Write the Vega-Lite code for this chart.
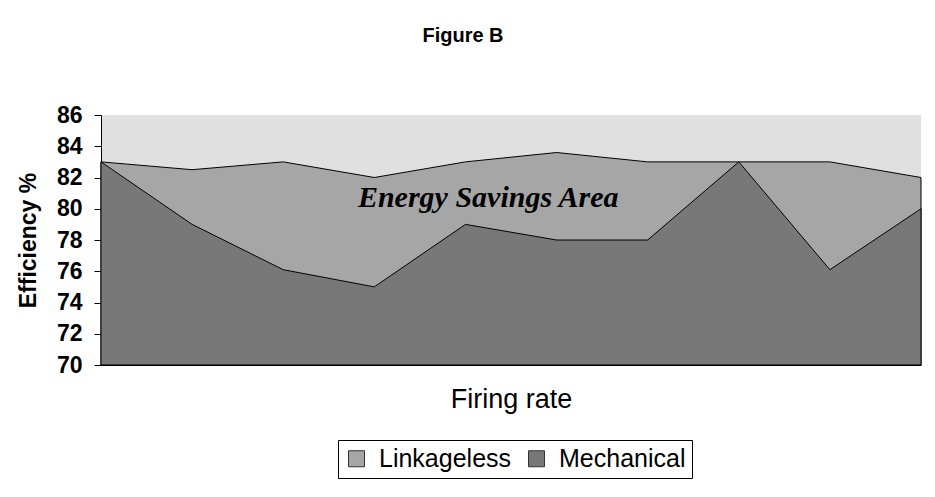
{
  "$schema": "https://vega.github.io/schema/vega-lite/v6.json",
  "width": 820,
  "height": 250,
  "autosize": {"type": "none"},
  "padding": {"left": 101, "top": 115, "right": 14, "bottom": 132},
  "background": "white",
  "title": {
    "text": "Figure B",
    "font": "Liberation Sans",
    "fontSize": 20,
    "fontWeight": "bold",
    "color": "black",
    "anchor": "middle",
    "dx": -48,
    "offset": 58
  },
  "config": {
    "view": {"fill": "#e0e0e0", "stroke": null},
    "font": "Liberation Sans",
    "axisY": {
      "labelOverlap": false,
      "grid": false,
      "domainColor": "black",
      "tickColor": "black",
      "tickSize": 7,
      "labelPadding": 12,
      "labelFont": "Liberation Sans",
      "labelFontSize": 23,
      "labelFontWeight": "bold",
      "labelColor": "black",
      "titleFont": "Liberation Sans",
      "titleFontSize": 23,
      "titleFontWeight": "bold",
      "titleColor": "black",
      "titlePadding": 16
    },
    "axisX": {
      "labels": false,
      "ticks": false,
      "grid": false,
      "domainColor": "black",
      "titleFont": "Liberation Sans",
      "titleFontSize": 27,
      "titleFontWeight": "normal",
      "titleColor": "black",
      "titlePadding": 21
    }
  },
  "datasets": {
    "eff": [
      {"point": 1, "series": "Linkageless", "efficiency": 83},
      {"point": 2, "series": "Linkageless", "efficiency": 82.5},
      {"point": 3, "series": "Linkageless", "efficiency": 83},
      {"point": 4, "series": "Linkageless", "efficiency": 82},
      {"point": 5, "series": "Linkageless", "efficiency": 83},
      {"point": 6, "series": "Linkageless", "efficiency": 83.6},
      {"point": 7, "series": "Linkageless", "efficiency": 83},
      {"point": 8, "series": "Linkageless", "efficiency": 83},
      {"point": 9, "series": "Linkageless", "efficiency": 83},
      {"point": 10, "series": "Linkageless", "efficiency": 82},
      {"point": 1, "series": "Mechanical", "efficiency": 83},
      {"point": 2, "series": "Mechanical", "efficiency": 79},
      {"point": 3, "series": "Mechanical", "efficiency": 76.1},
      {"point": 4, "series": "Mechanical", "efficiency": 75},
      {"point": 5, "series": "Mechanical", "efficiency": 79},
      {"point": 6, "series": "Mechanical", "efficiency": 78},
      {"point": 7, "series": "Mechanical", "efficiency": 78},
      {"point": 8, "series": "Mechanical", "efficiency": 83},
      {"point": 9, "series": "Mechanical", "efficiency": 76.1},
      {"point": 10, "series": "Mechanical", "efficiency": 80}
    ]
  },
  "layer": [
    {
      "data": {"name": "eff"},
      "mark": {"type": "area", "stroke": "black", "strokeWidth": 1, "fillOpacity": 1, "opacity": 1},
      "encoding": {
        "x": {
          "field": "point",
          "type": "quantitative",
          "scale": {"domain": [1, 10], "nice": false, "zero": false},
          "axis": {"title": "Firing rate"}
        },
        "y": {
          "field": "efficiency",
          "type": "quantitative",
          "stack": null,
          "scale": {"domain": [70, 86], "nice": false, "zero": false},
          "axis": {"title": "Efficiency %", "values": [70, 72, 74, 76, 78, 80, 82, 84, 86]}
        },
        "fill": {
          "field": "series",
          "type": "nominal",
          "scale": {"domain": ["Linkageless", "Mechanical"], "range": ["#a6a6a6", "#787878"]},
          "legend": {
            "title": null,
            "orient": "none",
            "legendX": 237,
            "legendY": 325,
            "direction": "horizontal",
            "symbolType": "square",
            "symbolSize": 256,
            "symbolStrokeColor": "#333333",
            "symbolStrokeWidth": 1,
            "symbolOpacity": 1,
            "labelFont": "Liberation Sans",
            "labelFontSize": 25,
            "labelColor": "black",
            "labelOffset": 10,
            "columnPadding": 12,
            "padding": 6,
            "strokeColor": "black"
          }
        }
      }
    },
    {
      "data": {"values": [{}]},
      "mark": {
        "type": "text",
        "text": "Energy Savings Area",
        "font": "Liberation Serif",
        "fontSize": 30,
        "fontStyle": "italic",
        "fontWeight": "bold",
        "color": "black",
        "align": "center",
        "baseline": "alphabetic"
      },
      "encoding": {
        "x": {"datum": 5.25, "type": "quantitative", "axis": {"title": "Firing rate"}},
        "y": {"datum": 80.1, "type": "quantitative", "axis": {"title": "Efficiency %", "values": [70, 72, 74, 76, 78, 80, 82, 84, 86]}}
      }
    }
  ]
}
